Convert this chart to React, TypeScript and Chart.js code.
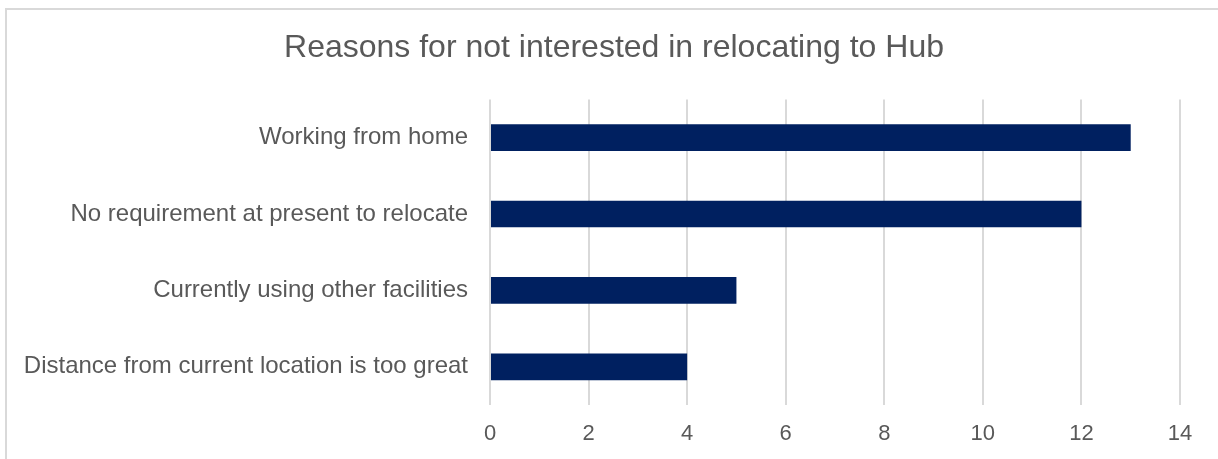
import React, { useEffect, useRef } from "react";
import { Chart, registerables } from "chart.js";

Chart.register(...registerables);

const categories = [
  "Working from home",
  "No requirement at present to relocate",
  "Currently using other facilities",
  "Distance from current location is too great",
];
const counts = [13, 12, 5, 4];
const xTicks = [0, 2, 4, 6, 8, 10, 12, 14];
const titleText = "Reasons for not interested in relocating to Hub";

const W = 1218;
const H = 459;
const FONT = "'Liberation Sans', Arial, sans-serif";
const TEXT = "#595959";

const titleCenter = {
  id: "titleCenter",
  afterLayout(chart: any) {
    const t = chart.titleBlock;
    if (t) {
      t.left = 10;
      t.right = W;
      t.width = W - 10;
    }
  },
};

export default function App() {
  const ref = useRef<HTMLCanvasElement | null>(null);

  useEffect(() => {
    document.body.style.margin = "0";
    const canvas = ref.current;
    if (!canvas) return;
    const chart = new Chart(canvas, {
      type: "bar",
      data: {
        labels: categories,
        datasets: [
          {
            data: counts,
            backgroundColor: "#002060",
            borderWidth: 0,
            barPercentage: 0.35,
            categoryPercentage: 1,
          },
        ],
      },
      plugins: [titleCenter],
      options: {
        indexAxis: "y",
        animation: false,
        responsive: false,
        maintainAspectRatio: false,
        layout: { padding: { left: 0, right: 38, top: 0, bottom: 0 } },
        plugins: {
          legend: { display: false },
          tooltip: { enabled: false },
          title: {
            display: true,
            text: titleText,
            color: TEXT,
            font: { family: FONT, size: 32, weight: "normal" },
            padding: { top: 29, bottom: 32 },
          },
        },
        scales: {
          x: {
            min: 0,
            max: 14,
            afterBuildTicks: (scale: any) => {
              scale.ticks = xTicks.map((v) => ({ value: v }));
            },
            afterFit: (scale: any) => {
              scale.height = 54;
            },
            grid: {
              color: "#d9d9d9",
              lineWidth: 2,
              drawTicks: false,
            },
            border: { display: false },
            ticks: {
              color: TEXT,
              padding: 16,
              font: { family: FONT, size: 22 },
            },
          },
          y: {
            afterFit: (scale: any) => {
              scale.width = 490;
            },
            grid: { display: false, drawTicks: false },
            border: { display: false },
            ticks: {
              color: TEXT,
              padding: 22,
              font: { family: FONT, size: 24 },
            },
          },
        },
      },
    });
    return () => chart.destroy();
  }, []);

  return (
    <div style={{ position: "relative", width: W, height: H, background: "#fff" }}>
      <canvas ref={ref} width={W} height={H} style={{ display: "block" }} />
      <div
        style={{
          position: "absolute",
          left: 5,
          top: 8,
          right: 0,
          bottom: 0,
          borderTop: "2px solid #d9d9d9",
          borderLeft: "2px solid #d9d9d9",
          pointerEvents: "none",
        }}
      />
    </div>
  );
}
